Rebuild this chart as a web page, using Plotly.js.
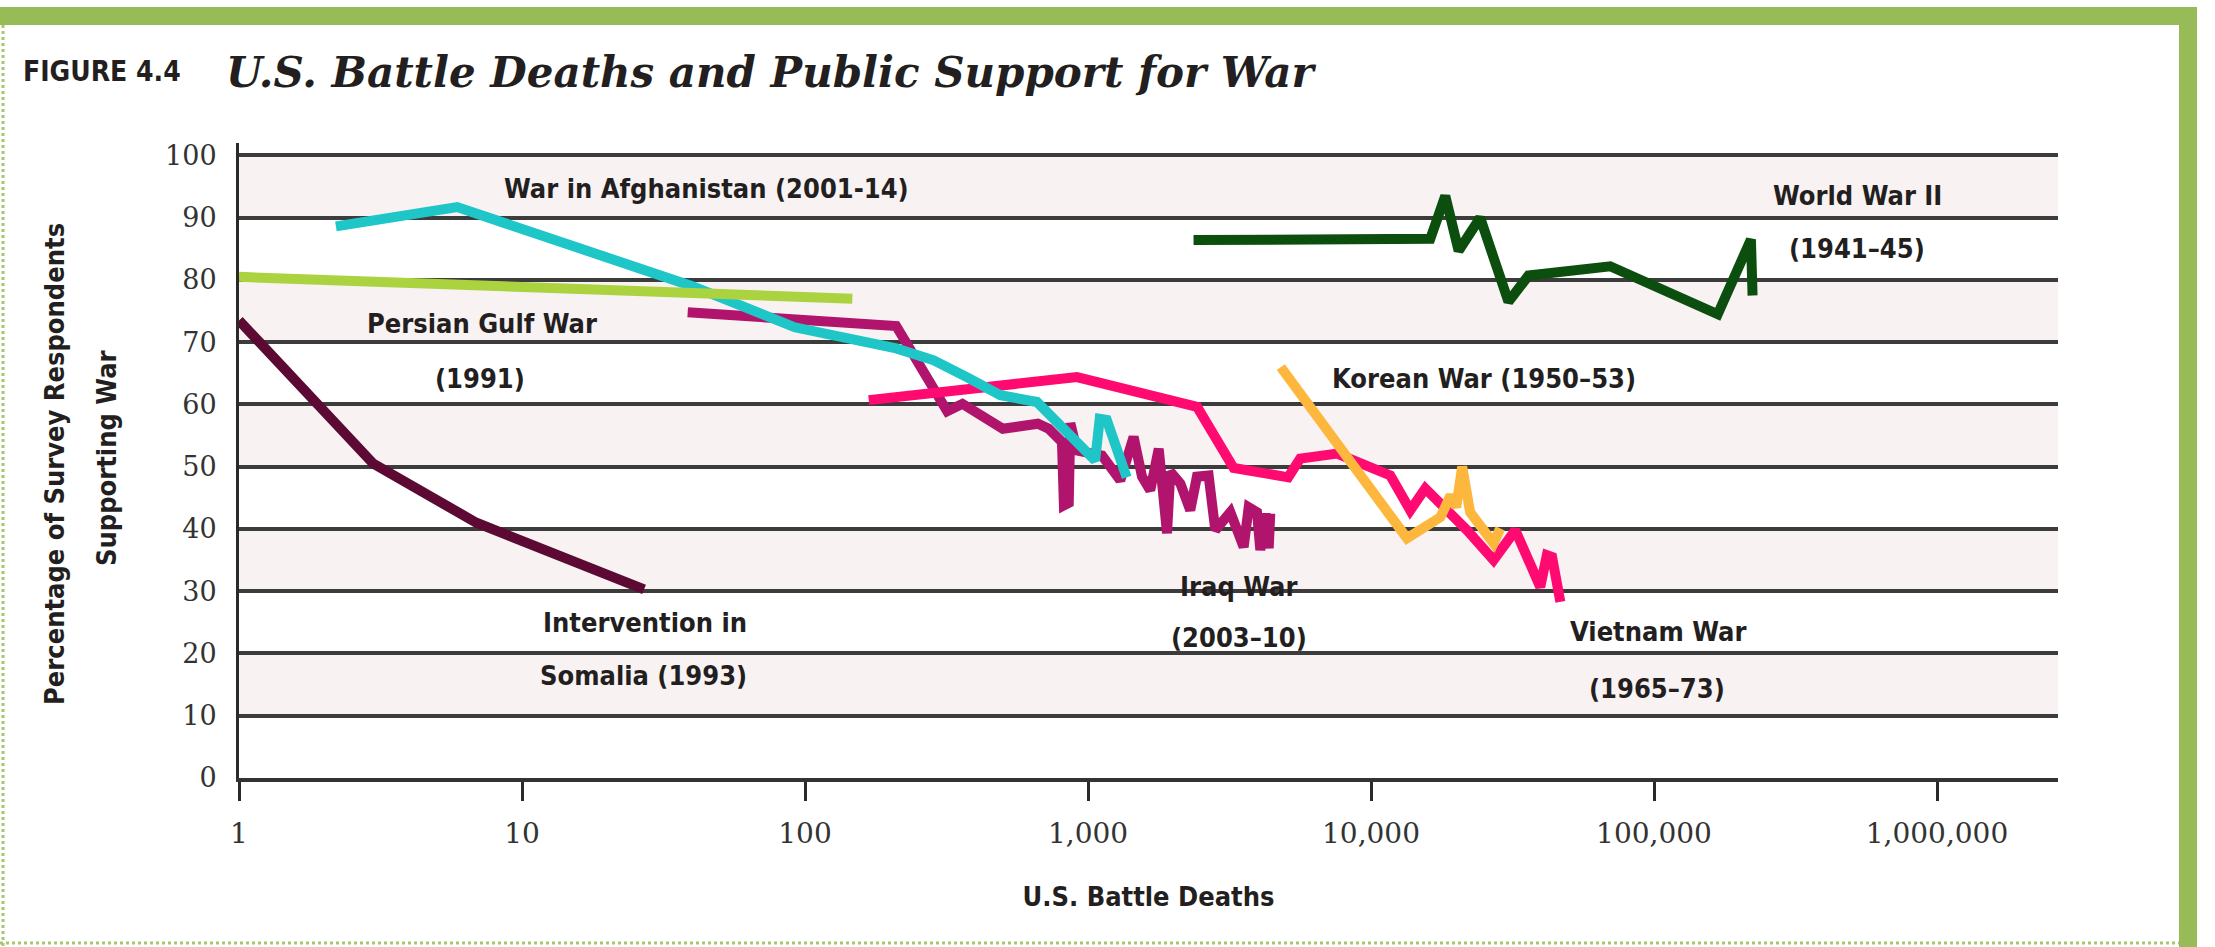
<!DOCTYPE html>
<html>
<head>
<meta charset="utf-8">
<script src="https://cdn.plot.ly/plotly-3.0.1.min.js"></script>
<style>
  html, body { margin: 0; padding: 0; background: #ffffff; }
  #chart { width: 2215px; height: 947px; }
</style>
</head>
<body>
<div id="chart"></div>
<script>
// ---------- data ----------
const somaliaDeaths = [1, 2.98, 6.9, 27];
const somaliaSupport = [73.5, 50.5, 41.0, 30.3];

const gulfDeaths = [1, 6.5, 27.5, 147];
const gulfSupport = [80.5, 79.2, 78.3, 77.0];

const afghanDeaths = [2.2, 5.9, 40, 92, 210, 285, 373, 490, 660, 965, 1060, 1100, 1165, 1370];
const afghanSupport = [88.6, 91.7, 79.0, 72.4, 69.0, 67.1, 64.4, 61.5, 60.4, 53.2, 51.0, 57.7, 57.5, 48.3];

const iraqDeaths = [38.5, 210, 318, 360, 500, 665, 726, 809, 822, 855, 866, 914, 1121, 1300, 1449, 1552, 1660, 1778, 1902, 1954, 2120, 2298, 2426, 2668, 2817, 3014, 3184, 3548, 3697, 3955, 4064, 4233, 4350, 4406];
const iraqSupport = [74.8, 72.6, 58.9, 60.1, 56.1, 56.9, 56.1, 54.0, 43.8, 44.2, 57.0, 52.6, 51.8, 47.8, 54.8, 48.4, 46.2, 52.9, 39.3, 49.2, 47.3, 43.0, 48.4, 48.6, 39.8, 41.4, 42.7, 37.1, 43.5, 42.7, 36.6, 42.5, 36.9, 42.5];

const vietnamDeaths = [168, 914, 2430, 3270, 5100, 5620, 7590, 11700, 13760, 15550, 21840, 27110, 32360, 39630, 41820, 43640, 46680];
const vietnamSupport = [60.7, 64.4, 59.6, 49.8, 48.3, 51.3, 52.1, 48.6, 43.0, 46.5, 39.8, 35.0, 39.8, 30.7, 35.8, 35.5, 28.3];

const koreaDeaths = [4800, 13400, 17600, 19100, 20000, 21000, 22400, 27100, 28600];
const koreaSupport = [66.0, 38.5, 41.9, 45.4, 43.5, 50.0, 42.7, 37.7, 40.1];

const wwiiDeaths = [2360, 16200, 18300, 20400, 24300, 30600, 36000, 70000, 168000, 220000, 223000];
const wwiiSupport = [86.4, 86.6, 93.5, 84.7, 90.0, 76.5, 80.7, 82.2, 74.5, 86.5, 77.5];

const xTickValues = [1, 10, 100, 1000, 10000, 100000, 1000000];
const xTickLabels = ["1", "10", "100", "1,000", "10,000", "100,000", "1,000,000"];
const yTickValues = [0, 10, 20, 30, 40, 50, 60, 70, 80, 90, 100];
const yTickLabels = ["0", "10", "20", "30", "40", "50", "60", "70", "80", "90", "100"];

const figureLabel = "FIGURE 4.4";
const chartTitle = "U.S. Battle Deaths and Public Support for War";
const xTitle = "U.S. Battle Deaths";
const yTitleLines = ["Percentage of Survey Respondents", "Supporting War"];

// ---------- styling ----------
const W = 2215, H = 947;
const M = { l: 239, r: 157, t: 143, b: 169 };
const PW = W - M.l - M.r, PH = H - M.t - M.b;
const px = v => (v - M.l) / PW;          // pixel -> paper x
const py = v => (H - M.b - v) / PH;      // pixel -> paper y

const condensed = "'Liberation Sans Narrow', 'DejaVu Sans Condensed', 'Roboto Condensed', 'Arial Narrow', sans-serif";
const labelFont = { family: condensed, size: 27, color: "#231f20", weight: "bold" };
const LW = 10;

function series(x, y, color, name) {
  return { type: "scatter", mode: "lines", x: x, y: y, name: name,
           line: { color: color, width: LW, shape: "linear" }, hoverinfo: "x+y+name" };
}

const traces = [
  series(somaliaDeaths, somaliaSupport, "#5c0a33", "Intervention in Somalia (1993)"),
  series(iraqDeaths, iraqSupport, "#b0146c", "Iraq War (2003–10)"),
  series(vietnamDeaths, vietnamSupport, "#ff0a70", "Vietnam War (1965–73)"),
  series(afghanDeaths, afghanSupport, "#1ec6c8", "War in Afghanistan (2001-14)"),
  series(gulfDeaths, gulfSupport, "#aad33f", "Persian Gulf War (1991)"),
  series(koreaDeaths, koreaSupport, "#fdb73c", "Korean War (1950–53)"),
  series(wwiiDeaths, wwiiSupport, "#0b4e0d", "World War II (1941–45)")
];

// alternating bands
const shapes = [];
for (let k = 10; k < 100; k += 20) {
  shapes.push({ type: "rect", xref: "paper", yref: "y", x0: 0, x1: 1, y0: k, y1: k + 10,
                fillcolor: "#f8f2f3", line: { width: 0 }, layer: "below" });
}
// decorative green frame
const frame = "#97bc57";
shapes.push({ type: "rect", xref: "paper", yref: "paper", x0: px(0), x1: px(2197), y0: py(25), y1: py(7),
              fillcolor: frame, line: { width: 0 }, layer: "above" });
shapes.push({ type: "rect", xref: "paper", yref: "paper", x0: px(2179), x1: px(2197), y0: py(947), y1: py(7),
              fillcolor: frame, line: { width: 0 }, layer: "above" });
shapes.push({ type: "line", xref: "paper", yref: "paper", x0: px(3), x1: px(3), y0: py(25), y1: py(947),
              line: { color: "#a9c770", width: 3, dash: "dot" }, layer: "above" });
shapes.push({ type: "line", xref: "paper", yref: "paper", x0: px(0), x1: px(2179), y0: py(943), y1: py(943),
              line: { color: "#a9c770", width: 3, dash: "dot" }, layer: "above" });

function lbl(text, x, y) {
  return { text: text, x: x, y: y, xref: "x", yref: "y", showarrow: false,
           xanchor: "center", yanchor: "middle", font: labelFont };
}
const annotations = [
  lbl("War in Afghanistan (2001-14)", 1.651, 94.7),
  lbl("Persian Gulf War", 0.858, 73.0),
  lbl("(1991)", 0.853, 64.1),
  lbl("Intervention in", 1.435, 24.9),
  lbl("Somalia (1993)", 1.430, 16.5),
  lbl("Iraq War", 3.532, 30.8),
  lbl("(2003–10)", 3.534, 22.6),
  lbl("Korean War (1950–53)", 4.398, 64.1),
  lbl("World War II", 5.718, 93.6),
  lbl("(1941–45)", 5.716, 85.0),
  lbl("Vietnam War", 5.014, 23.5),
  lbl("(1965–73)", 5.009, 14.4),
  { text: figureLabel, xref: "paper", yref: "paper", x: px(21), y: py(72), xanchor: "left", yanchor: "middle",
    showarrow: false, font: { family: condensed, size: 28, color: "#231f20", weight: "bold" } },
  { text: yTitleLines[0], xref: "paper", yref: "paper", x: px(54), y: py(464), textangle: -90,
    xanchor: "center", yanchor: "middle", showarrow: false, font: labelFont },
  { text: yTitleLines[1], xref: "paper", yref: "paper", x: px(106), y: py(458), textangle: -90,
    xanchor: "center", yanchor: "middle", showarrow: false, font: labelFont }
];

const layout = {
  width: W, height: H,
  margin: M,
  paper_bgcolor: "#ffffff", plot_bgcolor: "#ffffff",
  showlegend: false,
  title: { text: "<b><i>" + chartTitle + "</i></b>", xref: "container", yref: "container",
           x: 226 / W, xanchor: "left", y: 1 - 72 / H, yanchor: "middle",
           font: { family: "'DejaVu Serif', serif", size: 42, color: "#231f20" } },
  xaxis: {
    type: "log", range: [0, (2058 - M.l) / 283],
    tickvals: xTickValues, ticktext: xTickLabels,
    ticks: "outside", ticklen: 19, tickwidth: 3, tickcolor: "#2a2a2a",
    ticklabelstandoff: 8,
    tickfont: { family: "'DejaVu Serif', serif", size: 28, color: "#333333" },
    showgrid: false, zeroline: false,
    showline: true, linecolor: "#333333", linewidth: 4,
    automargin: false,
    title: { text: xTitle, font: labelFont, standoff: 40 }
  },
  yaxis: {
    range: [0, 102],
    tickvals: yTickValues, ticktext: yTickLabels,
    ticks: "", ticklabelstandoff: 14,
    tickfont: { family: "'DejaVu Serif', serif", size: 27, color: "#333333" },
    showgrid: true, gridcolor: "#3c3c3c", gridwidth: 3.5,
    zeroline: false,
    showline: true, linecolor: "#2a2a2a", linewidth: 3,
    automargin: false
  },
  shapes: shapes,
  annotations: annotations
};

Plotly.newPlot("chart", traces, layout, { displayModeBar: false, responsive: false });
</script>
</body>
</html>
